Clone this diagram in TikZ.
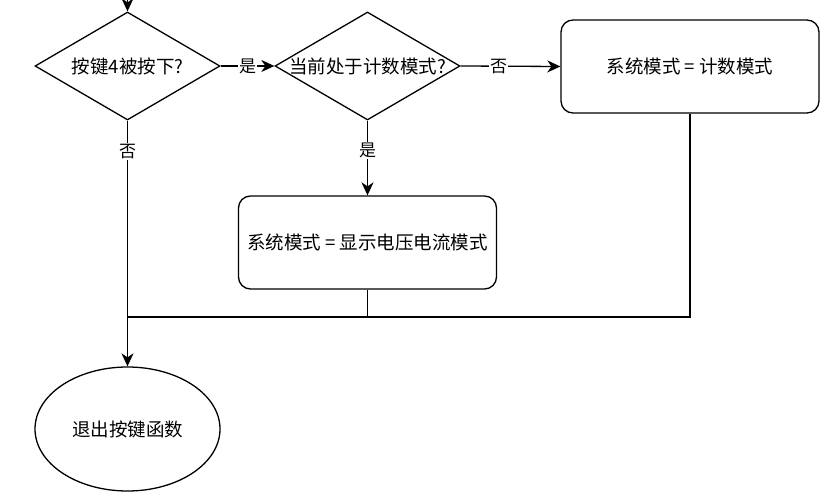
\documentclass[tikz,border=0pt]{standalone}
\usepackage{fontspec}
\setmainfont{Noto Sans CJK SC}
\usetikzlibrary{shapes.geometric,arrows.meta}
\begin{document}
\begin{tikzpicture}[x=1pt,y=-1pt]
    \tikzstyle{every node}+=[inner sep=0pt]
    \tikzstyle{cond}=[draw=black,line width=1.3pt,diamond,minimum width=185pt,minimum height=108pt]
    \tikzstyle{proc}=[draw=black,line width=1.3pt,rectangle,rounded corners=12pt,minimum width=258pt,minimum height=93pt,font=\fontsize{18.5}{22}\selectfont]
    \tikzstyle{term}=[draw=black,line width=1.3pt,ellipse,minimum width=185pt,minimum height=124pt,font=\fontsize{18.5}{22}\selectfont]
    \tikzstyle{txt}=[font=\fontsize{18.5}{22}\selectfont]
    \tikzstyle{lbl}=[fill=white,inner sep=1pt,font=\fontsize{17}{20}\selectfont]
    \tikzstyle{line}=[draw=black,line width=1.3pt]
    \tikzstyle{arr}=[line,-{Stealth[length=13pt,width=12pt,inset=4pt]}]
    \useasboundingbox (0,0) rectangle (838,497);
    \node [cond] (d1) at (127.5,66) {};
    \node [txt] (d1t) at (d1) {按键4被按下?};
    \node [cond] (d2) at (367.5,66) {};
    \node [txt] (d2t) at (d2) {当前处于计数模式?};
    \node [proc] (r1) at (690,66.5) {系统模式 = 计数模式};
    \node [proc] (r2) at (367.5,242.5) {系统模式 = 显示电压电流模式};
    \node [term] (ex) at (127.5,429) {退出按键函数};
    \coordinate (in) at (127.5,0);
    \coordinate (j) at (127.5,317);
    \draw [arr] (in) -- (d1.north);
    \draw [arr] (d1.east) -- node [lbl] {是} (d2.west);
    \draw [arr] (d2.east) -- node [lbl,pos=0.38] {否} (r1.west);
    \draw [arr] (d2.south) -- node [lbl,pos=0.4] {是} (r2.north);
    \draw [arr] (d1.south) -- node [lbl,pos=0.125] {否} (ex.north);
    \draw [line] (r2.south) |- (j);
    \draw [line] (r1.south) |- (j);
    \end{tikzpicture}
\end{document}
